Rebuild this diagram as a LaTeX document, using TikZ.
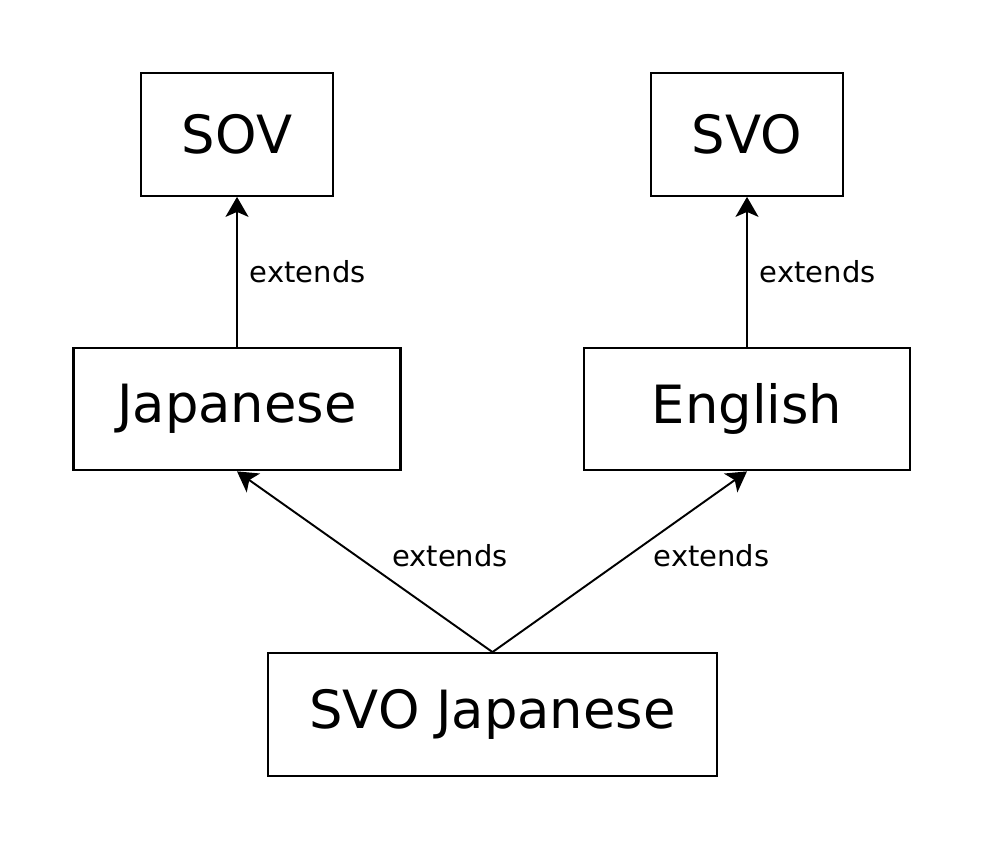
\documentclass[tikz,border=0pt]{standalone}
\usepackage{fontspec}
\setmainfont{DejaVu Sans}
\usetikzlibrary{arrows.meta}

\begin{document}
\begin{tikzpicture}[x=1cm,y=1cm,
  box/.style={rectangle,draw,line width=1.3pt,minimum height=2.45cm,inner sep=0pt,font=\fontsize{30}{36}\selectfont},
  ext/.style={-{Stealth[length=4mm,width=4.6mm,inset=1mm]},line width=1.1pt},
  lbl/.style={font=\fontsize{16.5}{20}\selectfont,inner sep=0pt}]
\useasboundingbox (0,0) rectangle (20,17.18);
\node[box,minimum width=3.84cm] (sov) at (4.74,14.49) {SOV};
\node[box,minimum width=3.84cm] (svo) at (14.94,14.49) {SVO};
\node[box,minimum width=6.54cm] (jp) at (4.74,9.0) {Japanese};
\node[box,minimum width=6.52cm] (en) at (14.94,9.0) {English};
\node[box,minimum width=8.98cm] (svojp) at (9.85,2.89) {SVO Japanese};
\draw[ext] (jp) -- node[lbl,midway,anchor=west,xshift=0.24cm] {extends} (sov);
\draw[ext] (en) -- node[lbl,midway,anchor=west,xshift=0.24cm] {extends} (svo);
\draw[ext] (svojp.north) -- node[lbl,midway,anchor=west,xshift=0.53cm,yshift=0.13cm] {extends} (jp.south);
\draw[ext] (svojp.north) -- node[lbl,midway,anchor=west,xshift=0.66cm,yshift=0.13cm] {extends} (en.south);
\end{tikzpicture}
\end{document}
